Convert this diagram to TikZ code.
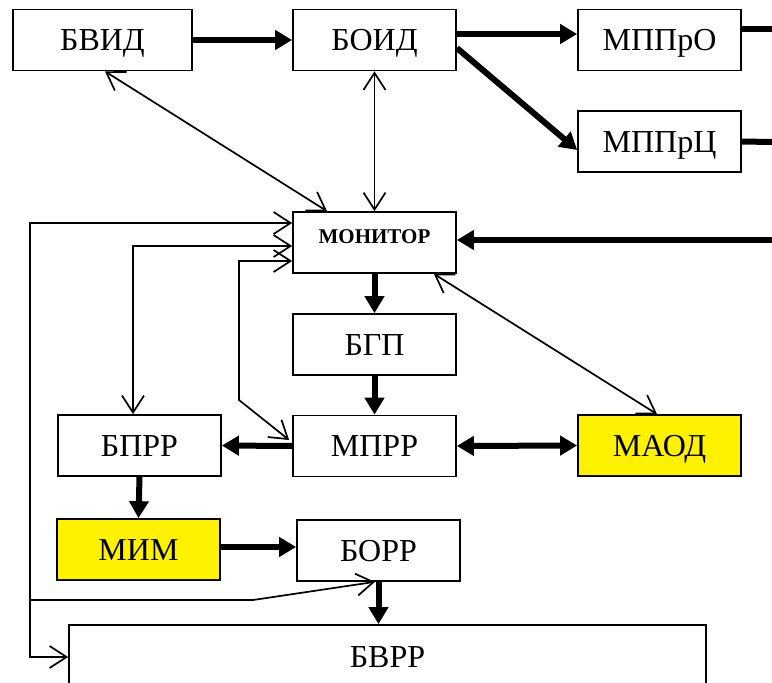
\documentclass[tikz,border=0pt]{standalone}
\usepackage{fontspec}
\setmainfont{Liberation Serif}
\usetikzlibrary{arrows.meta}

\begin{document}
\begin{tikzpicture}[x=1pt,y=-1pt,
  block/.style={draw, line width=1.7pt, minimum width=163pt, minimum height=61pt,
    inner sep=0pt, font=\fontsize{32}{34}\selectfont, text height=21pt, text depth=0pt},
  hl/.style={fill=yellow},
  heavybar/.style={line width=6pt},
  heavy/.style={heavybar, -{Triangle[length=17pt,width=19pt]}},
  heavyboth/.style={heavybar, {Triangle[length=17pt,width=19pt]}-{Triangle[length=17pt,width=19pt]}},
  link/.style={line width=1.7pt, -{Straight Barb[length=17pt,width=22pt]}},
  linkboth/.style={line width=1.7pt, {Straight Barb[length=17pt,width=22pt]}-{Straight Barb[length=17pt,width=22pt]}}]

\useasboundingbox (0,0) rectangle (772,683);
\clip (0,0) rectangle (772,683);
\fill[white] (0,0) rectangle (772,683);

% blocks
\node[block, minimum width=179pt] (bvid) at (102.5,40) {БВИД};
\node[block] (boid) at (374.5,40) {БОИД};
\node[block] (mppro) at (659.5,40) {МППрО};
\node[block] (mpprc) at (659.5,141.5) {МППрЦ};
\node[block, font=\bfseries\fontsize{21}{24}\selectfont, text height=14pt, text depth=13pt] (mon) at (374.5,242.5) {МОНИТОР};
\node[block] (bgp) at (374.5,344.5) {БГП};
\node[block] (mprr) at (374.5,446) {МПРР};
\node[block] (bprr) at (139.5,445.5) {БПРР};
\node[block, hl] (maod) at (659.5,445.5) {МАОД};
\node[block, hl] (mim) at (138.5,549.5) {МИМ};
\node[block] (borr) at (378.5,550.5) {БОРР};
\node[block, minimum width=637pt, minimum height=63pt] (bvrr) at (387.5,656.5) {БВРР};

% free ends and bends
\coordinate (outO) at (772,29);
\coordinate (outC) at (772,142);
\coordinate (inM) at (772,240);
\coordinate (busT) at (30,223);
\coordinate (busB) at (30,657);
\coordinate (busR) at (30,600);
\coordinate (busK) at (253,600);
\coordinate (loopB) at (133,246);
\coordinate (loopC) at (239,261);
\coordinate (loopD) at (239,400);

% main data flow
\draw[heavy] (bvid.east) -- (boid.west);
\draw[heavy] ([yshift=6pt]boid.east) -- ([yshift=6pt]mppro.west);
\draw[heavy] ([yshift=-8pt]boid.east) -- ([yshift=-8.5pt]mpprc.west);
\draw[heavybar] ([yshift=11pt]mppro.east) -- (outO);
\draw[heavybar] (mpprc.east) -- (outC);
\draw[heavy] (inM) -- ([yshift=2.5pt]mon.east);
\draw[heavy] (mon.south) -- (bgp.north);
\draw[heavy] (bgp.south) -- (mprr.north);
\draw[heavy] (mprr.west) -- (bprr.east);
\draw[heavyboth] (mprr.east) -- (maod.west);
\draw[heavy] (bprr.south) -- (mim.north);
\draw[heavy] ([yshift=2.5pt]mim.east) -- ([yshift=3.5pt]borr.west);
\draw[heavy] (borr.south) -- (borr.south |- bvrr.north);

% control links
\draw[linkboth] ([xshift=2.5pt]bvid.south) -- ([xshift=-47.5pt]mon.north);
\draw[linkboth] (boid.south) -- (mon.north);
\draw[linkboth] ([xshift=-23pt]mon.south east) -- ([xshift=-2.5pt]maod.north);
\draw[linkboth] (mon.west |- busT) -- (busT) -- (busB) -- (bvrr.west |- busB);
\draw[link] (busR) -- (busK) -- ([xshift=-3.5pt]borr.south);
\draw[linkboth] (mon.west |- loopB) -- (loopB) -- (loopB |- bprr.north);
\draw[linkboth] (mon.west |- loopC) -- (loopC) -- (loopD) -- ([xshift=-3pt,yshift=6pt]mprr.west);
\end{tikzpicture}
\end{document}
